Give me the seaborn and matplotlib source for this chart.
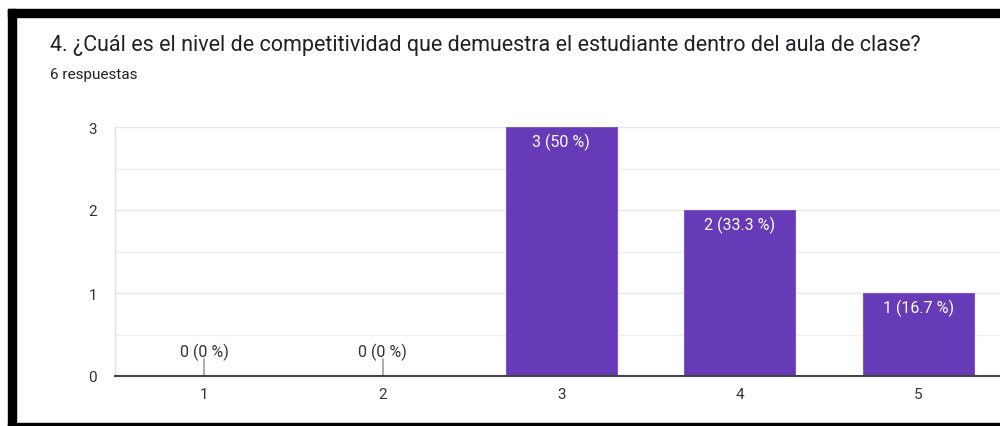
import matplotlib
matplotlib.use("Agg")
import matplotlib.pyplot as plt
from matplotlib.patches import Rectangle
import seaborn as sns
import pandas as pd

# Datos
categorias = ["1", "2", "3", "4", "5"]
respuestas = [0, 0, 3, 2, 1]
porcentajes = [0, 0, 50, 33.3, 16.7]
titulo = "4. ¿Cuál es el nivel de competitividad que demuestra el estudiante dentro del aula de clase?"
subtitulo = "6 respuestas"

MORADO = "#673ab7"

sns.set_theme(style="white")
plt.rcParams["font.family"] = ["Roboto", "DejaVu Sans"]

df = pd.DataFrame({"categoria": categorias, "respuestas": respuestas})

W, H = 1000, 427
fig = plt.figure(figsize=(W / 100, H / 100), dpi=100)

# Marco negro de la captura
fig.patches.append(Rectangle((8 / W, 0), 8 / W, 1 - 10 / H, transform=fig.transFigure,
                             color="black", zorder=0))
fig.patches.append(Rectangle((8 / W, 1 - 18 / H), 1, 8 / H, transform=fig.transFigure,
                             color="black", zorder=0))
fig.patches.append(Rectangle((8 / W, 0), 1, 3 / H, transform=fig.transFigure,
                             color="black", zorder=0))

ax = fig.add_axes([115 / W, 1 - 377 / H, (W - 115) / W, (377 - 128) / H])

sns.barplot(data=df, x="categoria", y="respuestas", color=MORADO, saturation=1,
            width=0.62, edgecolor="#7e57c2", linewidth=0.8, ax=ax, zorder=3)

ax.set_xlim(-0.5, -0.5 + (W - 115) / 178.5)
ax.set_ylim(0, 3)
ax.set_yticks([0, 1, 2, 3])
ax.set_yticks([0.5, 1.5, 2.5], minor=True)
ax.grid(axis="y", which="major", color="#e6e6e6", linewidth=1, zorder=0)
ax.grid(axis="y", which="minor", color="#f0f0f0", linewidth=1, zorder=0)
ax.set_axisbelow(True)

for s in ["top", "right"]:
    ax.spines[s].set_visible(False)
ax.spines["left"].set_color("#e0e0e0")
ax.spines["left"].set_linewidth(1)
ax.spines["bottom"].set_color("#444444")
ax.spines["bottom"].set_linewidth(1.5)
ax.spines["bottom"].set_zorder(4)

ax.tick_params(axis="both", length=0, labelsize=11, labelcolor="#333333")
ax.tick_params(axis="y", pad=13)
ax.tick_params(axis="x", pad=8)
ax.set_xlabel("")
ax.set_ylabel("")

# Etiquetas de valor
for i, (n, p) in enumerate(zip(respuestas, porcentajes)):
    texto = f"{n} ({p:g} %)"
    if n == 0:
        ax.plot([i, i], [0, 0.2], color="#a0a0a0", linewidth=1.2, zorder=2)
        ax.text(i, 0.3, texto, ha="center", va="center", fontsize=11.5, color="#333333")
    else:
        ax.text(i, n - 0.17, texto, ha="center", va="center", fontsize=11.5, color="white",
                zorder=5)

fig.text(50 / W, 1 - 46 / H, titulo, fontsize=15.5, color="#202124", ha="left", va="center")
fig.text(50 / W, 1 - 75 / H, subtitulo, fontsize=11, color="#202124", ha="left", va="center")

fig.savefig("out.png", dpi=100, facecolor="white")
